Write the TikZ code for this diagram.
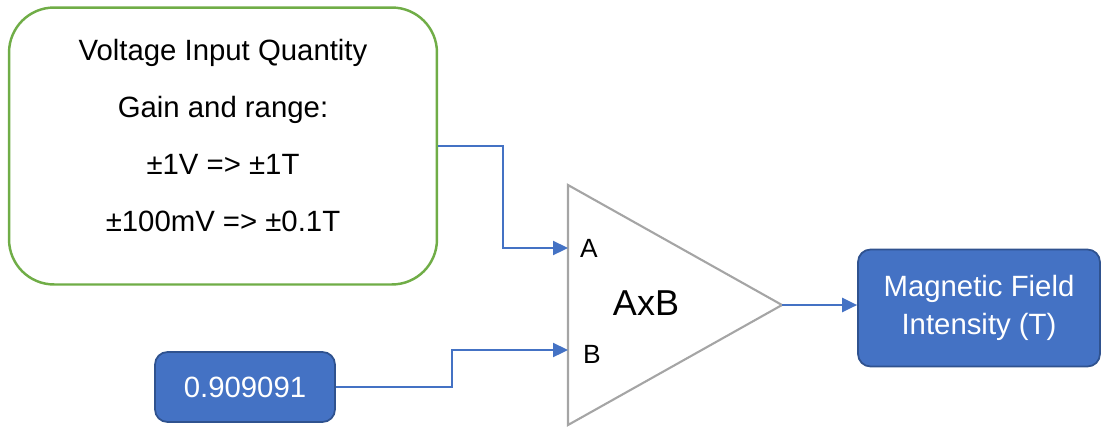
\documentclass[tikz,border=0pt]{standalone}
\usepackage{fontspec}
\setmainfont{Liberation Sans}
\usetikzlibrary{arrows.meta,positioning,calc}
\definecolor{okgreen}{HTML}{70AD47}
\definecolor{boxblue}{HTML}{4472C4}
\definecolor{edgeblue}{HTML}{2F528F}
\definecolor{trigray}{HTML}{A5A5A5}
\tikzset{
  quantbox/.style={rectangle, rounded corners=0.9cm, draw=okgreen, line width=1.4pt, fill=white,
                   align=center, minimum width=8.56cm, minimum height=5.54cm,
                   font=\fontsize{16.7}{32.4}\selectfont},
  bluebox/.style={rectangle, rounded corners=0.25cm, draw=edgeblue, line width=1pt, fill=boxblue,
                  text=white, align=center, font=\fontsize{16.7}{21.5}\selectfont},
  pin/.style={font=\fontsize{15}{18}\selectfont},
  arr/.style={-{Triangle[length=0.3cm, width=0.28cm]}, line width=1.3pt, draw=boxblue},
}

\begin{document}
\begin{tikzpicture}[x=0.02cm, y=-0.02cm]
\useasboundingbox (0,0) rectangle (1103,427);
\node[quantbox, text depth=0.44cm] (volt) at (223,146) {Voltage Input Quantity\\Gain and range:\\±1V => ±1T\\±100mV => ±0.1T};
\coordinate (inA) at (568,248);
\coordinate (inB) at (568,350);
\coordinate (apex) at (782,305);
\draw[trigray, line width=1.2pt] (568,185) -- (apex) -- (568,425) -- cycle;
\node[pin] (la) at (589,248) {A};
\node[pin] (lb) at (592,354) {B};
\node[font=\fontsize{20.5}{24}\selectfont] (axb) at (646,303) {AxB};
\node[bluebox, minimum width=3.6cm, minimum height=1.4cm] (val) at (245,387) {0.909091};
\node[bluebox, minimum width=4.84cm, minimum height=2.34cm] (mag) at (979,308) {Magnetic Field\\Intensity (T)};
\draw[arr] (volt.east) -| ($(volt.east)!0.5!(inA)$) |- (inA);
\draw[arr] (val.east) -| ($(val.east)!0.5!(inB)$) |- (inB);
\draw[arr] (apex) -- (apex -| mag.west);
\end{tikzpicture}
\end{document}
